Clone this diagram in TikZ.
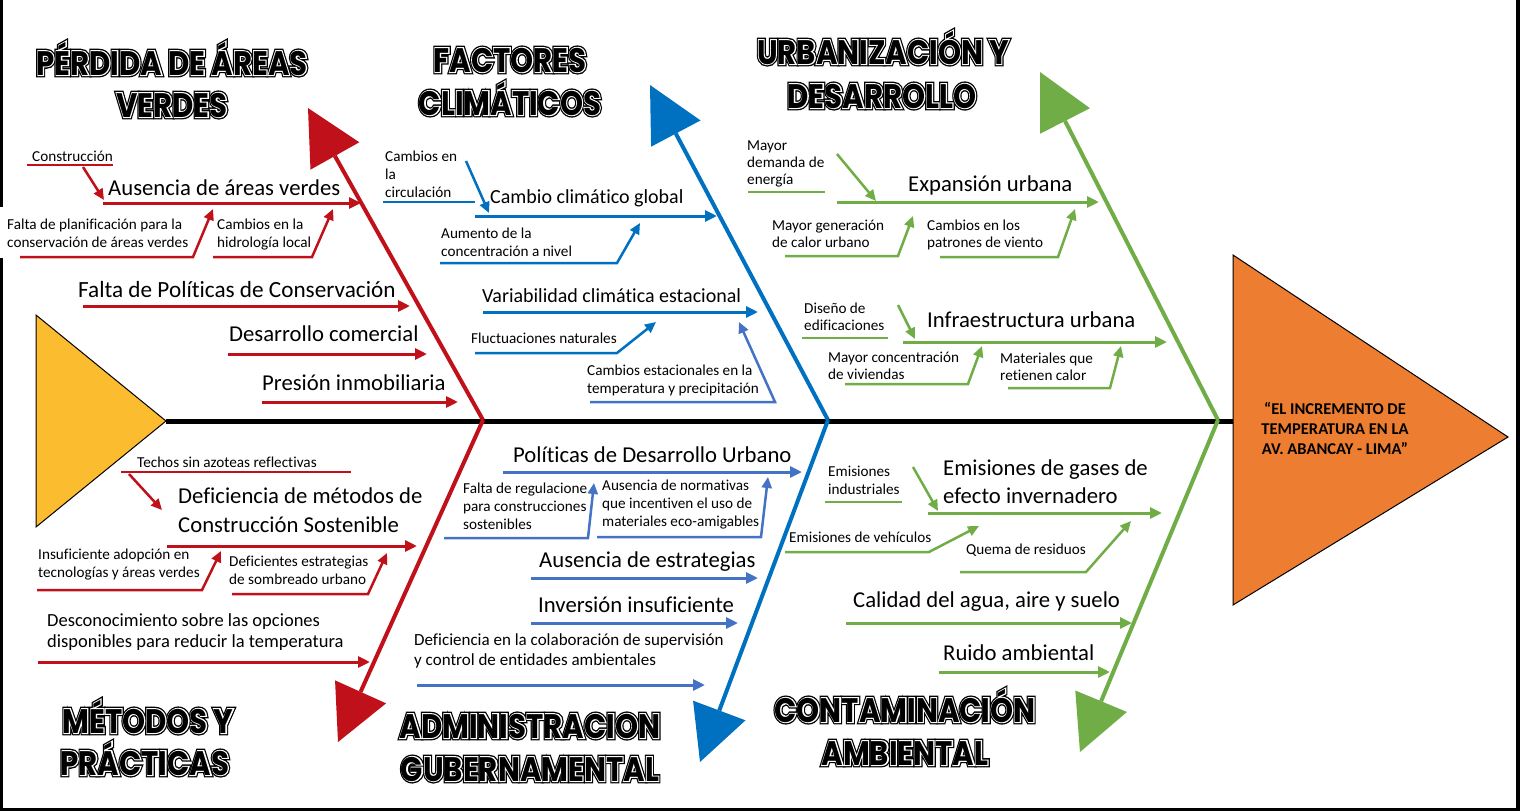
\documentclass[tikz,border=0pt]{standalone}
\usepackage{fontspec}
\usepackage{graphicx}
\setmainfont{Carlito}[Ligatures=NoCommon]
\newfontfamily\ttlA{Poppins}[UprightFont={* Bold},FakeBold=14]
\newfontfamily\ttlB{Poppins}[UprightFont={* Bold},FakeBold=6]
\newfontfamily\ttlC{Poppins}[UprightFont={* Bold}]
\usetikzlibrary{arrows.meta,calc}
\definecolor{cRed}{HTML}{C0101A}
\definecolor{cBlue}{HTML}{0070C0}
\definecolor{cBlueL}{HTML}{4472C4}
\definecolor{cGreen}{HTML}{70AD47}
\definecolor{cYellow}{HTML}{FBBD2F}
\definecolor{cOrange}{HTML}{ED7D31}
% outlined display lettering: thick black stroke, thin white ring, black core
\newcommand\bigtitle[1]{\scalebox{0.86}[1]{\rlap{\ttlA #1}\rlap{\color{white}\ttlB #1}\ttlC #1}}
% a category bone: line from the spine joint with a large triangular head
\newcommand\bone[3]{%
  \coordinate (#3-b) at ($(#3)!55pt!(#2)$);
  \draw[#1,line width=4pt] (#2) -- (#3-b);
  \fill[#1] (#3) -- ($(#3-b)!28pt!90:(#3)$) -- ($(#3-b)!28pt!-90:(#3)$) -- cycle;}
\tikzset{
  ttl/.style={inner sep=0, anchor=base, font=\fontsize{34}{40}\selectfont},
  stxt/.style={inner sep=0, anchor=base west, align=left, font=\fontsize{15.2}{18}\selectfont},
  btxt/.style={inner sep=0, anchor=base west, align=left, font=\fontsize{22.7}{28.5}\selectfont},
  mtxt/.style={inner sep=0, anchor=base west, align=left, font=\fontsize{18.5}{21}\selectfont},
  ctxt/.style={inner sep=0, anchor=base west, align=left, font=\fontsize{17}{19.5}\selectfont},
  cause/.style={line width=3pt, -{Triangle[length=12pt,width=11pt]}},
  sub/.style={line width=2.5pt, -{Triangle[length=11pt,width=10pt]}},
  rule/.style={line width=2.2pt},
}
\begin{document}
\begin{tikzpicture}[x=1pt,y=-1pt]
\useasboundingbox (0,0) rectangle (1520,811);
% frame
\draw[line width=3pt] (1.5,0) -- (1.5,811);
\draw[line width=4pt] (1518,0) -- (1518,811);
\draw[line width=3pt] (0,809.5) -- (1520,809.5);

% spine, tail and head
\node[coordinate] (tailtip) at (166,421) {};
\node[coordinate] (headin) at (1234,421) {};
\draw[line width=5pt] (tailtip) -- (headin);
\filldraw[fill=cYellow, draw=black, line width=1pt] (36,315) -- (tailtip) -- (36,527) -- cycle;
\filldraw[fill=cOrange, draw=black, line width=1pt] (1233,255) coordinate (hA) -- (1508,437) coordinate (hB) -- (1233,605) coordinate (hC) -- cycle;
\node[font=\bfseries\fontsize{16.5}{20}\selectfont, align=center, inner sep=0] (effect) at (1335,428) {“EL INCREMENTO DE\\TEMPERATURA EN LA\\AV. ABANCAY - LIMA”};

% category bones
\coordinate (rJ) at (483,420);  \coordinate (rT) at (308,108);  \coordinate (rB) at (338,742);
\coordinate (bJ) at (828,420);  \coordinate (bT) at (650,85);   \coordinate (bB) at (700,762);
\coordinate (gJ) at (1218,420); \coordinate (gT) at (1040,72);  \coordinate (gB) at (1080,752);
\bone{cRed}{rJ}{rT}
\bone{cRed}{rJ}{rB}
\bone{cBlue}{bJ}{bT}
\bone{cBlue}{bJ}{bB}
\bone{cGreen}{gJ}{gT}
\bone{cGreen}{gJ}{gB}

% category titles
\node[ttl] (ttl1a) at (172,75) {\bigtitle{PÉRDIDA DE ÁREAS}};
\node[ttl] (ttl1b) at (172,117) {\bigtitle{VERDES}};
\node[ttl] (ttl2a) at (510,72) {\bigtitle{FACTORES}};
\node[ttl] (ttl2b) at (510,115) {\bigtitle{CLIMÁTICOS}};
\node[ttl] (ttl3a) at (883,64) {\bigtitle{URBANIZACIÓN Y}};
\node[ttl] (ttl3b) at (882,108) {\bigtitle{DESARROLLO}};
\node[ttl] (ttl4a) at (148,733) {\bigtitle{MÉTODOS Y}};
\node[ttl] (ttl4b) at (145,775) {\bigtitle{PRÁCTICAS}};
\node[ttl] (ttl5a) at (530,738) {\bigtitle{ADMINISTRACION}};
\node[ttl] (ttl5b) at (530,781) {\bigtitle{GUBERNAMENTAL}};
\node[ttl] (ttl6a) at (905,722) {\bigtitle{CONTAMINACIÓN}};
\node[ttl] (ttl6b) at (905,765) {\bigtitle{AMBIENTAL}};

% ---------- Pérdida de áreas verdes ----------
\begin{scope}[cRed]
\draw[cause] (103,203) coordinate (r1a) -- (361,203) coordinate (r1b);
\node[btxt,text=black] (r1) at (108,195) {Ausencia de áreas verdes};
\node[stxt,text=black] (r11) at (32,161) {Construcción};
\draw[rule] (27,165) coordinate (r11u) -- (113,165);
\draw[sub] (83,167) coordinate (r11a) -- (104,200) coordinate (r11b);
\fill[white] (0,207) rectangle (6,258);
\node[stxt,text=black] (r12) at (7,247) {Falta de planificación para la\\conservación de áreas verdes};
\draw[sub] (20,257) coordinate (r12a) -- (193,257) -- (213,209) coordinate (r12b);
\node[stxt,text=black] (r13) at (217,247) {Cambios en la\\hidrología local};
\draw[sub] (213,257) coordinate (r13a) -- (312,257) -- (333,209) coordinate (r13b);
\node[btxt,text=black,font=\fontsize{23.2}{28}\selectfont] (r2) at (78,297) {Falta de Políticas de Conservación};
\draw[cause] (83,306) coordinate (r2a) -- (410,306) coordinate (r2b);
\node[btxt,text=black] (r3) at (229,341) {Desarrollo comercial};
\draw[cause] (228,354) coordinate (r3a) -- (427,354) coordinate (r3b);
\node[btxt,text=black] (r4) at (262,390) {Presión inmobiliaria};
\draw[cause] (262,402) coordinate (r4a) -- (458,402) coordinate (r4b);
\end{scope}

% ---------- Métodos y prácticas ----------
\begin{scope}[cRed]
\node[stxt,text=black] (m11) at (137,467) {Techos sin azoteas reflectivas};
\draw[rule] (121,472) coordinate (m11u) -- (351,472);
\draw[sub] (129,474) coordinate (m11a) -- (162,510) coordinate (m11b);
\node[btxt,text=black,font=\fontsize{22.7}{29}\selectfont] (m1) at (178,532) {Deficiencia de métodos de\\Construcción Sostenible};
\draw[cause] (167,546) coordinate (m1a) -- (417,546) coordinate (m1b);
\node[stxt,text=black] (m12) at (38,577) {Insuficiente adopción en\\tecnologías y áreas verdes};
\draw[sub] (37,590) coordinate (m12a) -- (202,590) -- (221,551) coordinate (m12b);
\node[stxt,text=black] (m13) at (229,584) {Deficientes estrategias\\de sombreado urbano};
\draw[sub] (232,594) coordinate (m13a) -- (368,594) -- (387,553) coordinate (m13b);
\node[mtxt,text=black] (m2) at (47,647) {Desconocimiento sobre las opciones\\disponibles para reducir la temperatura};
\draw[cause] (38,662) coordinate (m2a) -- (370,662) coordinate (m2b);
\end{scope}

% ---------- Factores climáticos ----------
\begin{scope}[cBlue]
\node[btxt,text=black,font=\fontsize{20}{24}\selectfont] (f1) at (490,203) {Cambio climático global};
\draw[cause] (475,216) coordinate (f1a) -- (717,216) coordinate (f1b);
\node[stxt,text=black] (f11) at (385,197) {Cambios en\\la\\circulación};
\draw[rule] (383,202) coordinate (f11u) -- (475,202);
\draw[sub] (466,161) coordinate (f11a) -- (489,213) coordinate (f11b);
\node[stxt,text=black] (f12) at (441,256) {Aumento de la\\concentración a nivel};
\draw[sub] (440,263) coordinate (f12a) -- (617,263) -- (640,223) coordinate (f12b);
\node[btxt,text=black,font=\fontsize{20}{24}\selectfont] (f2) at (482,302) {Variabilidad climática estacional};
\draw[cause] (483,312) coordinate (f2a) -- (758,312) coordinate (f2b);
\node[stxt,text=black] (f21) at (471,343) {Fluctuaciones naturales};
\draw[sub] (475,353) coordinate (f21a) -- (617,353) -- (656,322) coordinate (f21b);
\node[stxt,text=black] (f22) at (587,393) {Cambios estacionales en la\\temperatura y precipitación};
\draw[sub,cBlueL] (590,402) coordinate (f22a) -- (775,402) -- (739,322) coordinate (f22b);
\end{scope}

% ---------- Administración gubernamental ----------
\begin{scope}[cBlueL]
\node[btxt,text=black] (a1) at (513,462) {Políticas de Desarrollo Urbano};
\draw[cause] (503,472) coordinate (a1a) -- (802,472) coordinate (a1b);
\node[stxt,text=black] (a11) at (463,529) {Falta de regulacione\\para construcciones\\sostenibles};
\draw[sub] (444,538) coordinate (a11a) -- (588,538) -- (594,483) coordinate (a11b);
\node[stxt,text=black] (a12) at (602,526) {Ausencia de normativas\\que incentiven el uso de\\materiales eco-amigables};
\draw[sub] (597,537) coordinate (a12a) -- (761,537) -- (768,477) coordinate (a12b);
\node[btxt,text=black] (a2) at (539,567) {Ausencia de estrategias};
\draw[cause] (531,578) coordinate (a2a) -- (758,578) coordinate (a2b);
\node[btxt,text=black] (a3) at (538,612) {Inversión insuficiente};
\draw[cause] (531,623) coordinate (a3a) -- (738,623) coordinate (a3b);
\node[ctxt,text=black] (a4) at (414,665) {Deficiencia en la colaboración de supervisión\\y control de entidades ambientales};
\draw[cause] (417,685) coordinate (a4a) -- (705,685) coordinate (a4b);
\end{scope}

% ---------- Urbanización y desarrollo ----------
\begin{scope}[cGreen]
\node[btxt,text=black] (u1) at (908,191) {Expansión urbana};
\draw[cause] (837,202) coordinate (u1a) -- (1099,202) coordinate (u1b);
\node[stxt,text=black,font=\fontsize{15.2}{17}\selectfont] (u11) at (747,184) {Mayor\\demanda de\\energía};
\draw[rule] (748,192) coordinate (u11u) -- (825,192);
\draw[sub] (837,154) coordinate (u11a) -- (876,201) coordinate (u11b);
\node[stxt,text=black,font=\fontsize{15.2}{17}\selectfont] (u12) at (772,247) {Mayor generación\\de calor urbano};
\draw[sub] (785,256) coordinate (u12a) -- (898,256) -- (913,216) coordinate (u12b);
\node[stxt,text=black,font=\fontsize{15.2}{17}\selectfont] (u13) at (927,247) {Cambios en los\\patrones de viento};
\draw[sub] (940,257) coordinate (u13a) -- (1058,257) -- (1075,209) coordinate (u13b);
\node[btxt,text=black] (u2) at (927,327) {Infraestructura urbana};
\draw[cause] (903,342) coordinate (u2a) -- (1167,342) coordinate (u2b);
\node[stxt,text=black,font=\fontsize{15.2}{17}\selectfont] (u21) at (804,330) {Diseño de\\edificaciones};
\draw[rule] (802,338) coordinate (u21u) -- (888,338);
\draw[sub] (898,305) coordinate (u21a) -- (915,339) coordinate (u21b);
\node[stxt,text=black,font=\fontsize{15.2}{16.5}\selectfont] (u22) at (828,379) {Mayor concentración\\de viviendas};
\draw[sub] (845,384) coordinate (u22a) -- (968,384) -- (982,346) coordinate (u22b);
\node[stxt,text=black,font=\fontsize{15.2}{17}\selectfont] (u23) at (1000,380) {Materiales que\\retienen calor};
\draw[sub] (1008,388) coordinate (u23a) -- (1110,388) -- (1121,346) coordinate (u23b);
\end{scope}

% ---------- Contaminación ambiental ----------
\begin{scope}[cGreen]
\node[btxt,text=black,font=\fontsize{22.7}{28}\selectfont] (c1) at (943,503) {Emisiones de gases de\\efecto invernadero};
\draw[cause] (928,513) coordinate (c1a) -- (1162,513) coordinate (c1b);
\node[stxt,text=black] (c11) at (828,494) {Emisiones\\industriales};
\draw[rule] (825,502) coordinate (c11u) -- (902,502);
\draw[sub] (913,467) coordinate (c11a) -- (938,511) coordinate (c11b);
\node[stxt,text=black] (c12) at (789,542) {Emisiones de vehículos};
\draw[sub] (785,552) coordinate (c12a) -- (929,552) -- (979,526) coordinate (c12b);
\node[stxt,text=black] (c13) at (966,554) {Quema de residuos};
\draw[sub] (960,572) coordinate (c13a) -- (1086,572) -- (1131,521) coordinate (c13b);
\node[btxt,text=black] (c2) at (853,607) {Calidad del agua, aire y suelo};
\draw[cause] (846,623) coordinate (c2a) -- (1132,623) coordinate (c2b);
\node[btxt,text=black] (c3) at (943,660) {Ruido ambiental};
\draw[cause] (939,672) coordinate (c3a) -- (1110,672) coordinate (c3b);
\end{scope}
\end{tikzpicture}
\end{document}
